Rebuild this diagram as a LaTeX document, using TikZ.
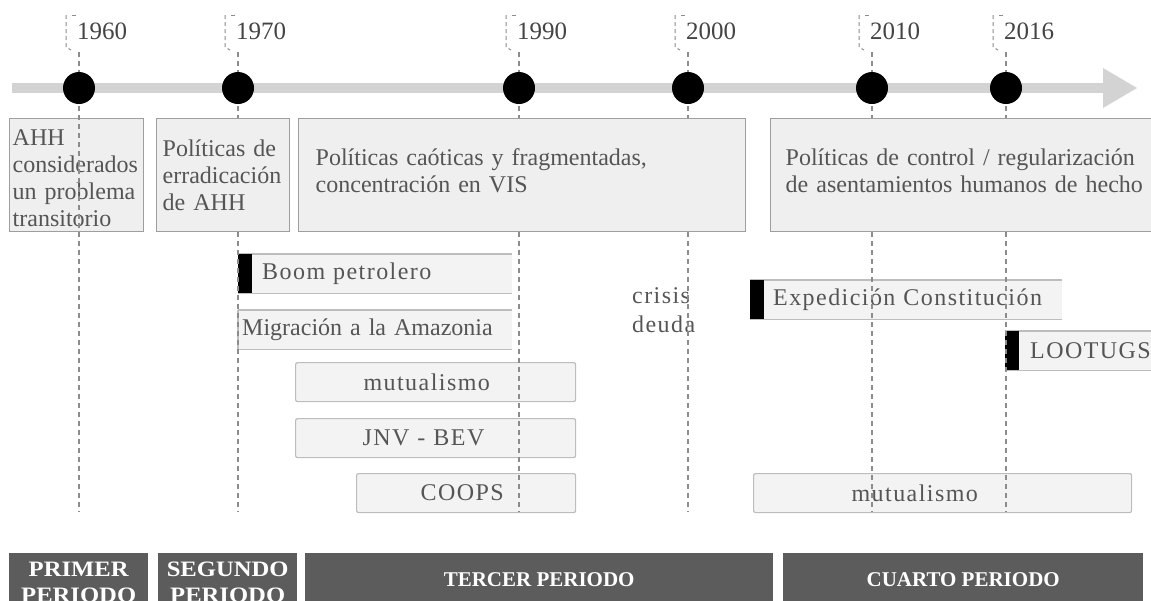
\documentclass[tikz,border=0pt]{standalone}
\usepackage{fontspec}
\setmainfont{Liberation Serif}
\newfontfamily\spacedfont{Liberation Serif}[LetterSpace=6]
\definecolor{axis}{HTML}{D3D3D3}
\definecolor{boxfill}{HTML}{EFEFEF}
\definecolor{boxline}{HTML}{9E9E9E}
\definecolor{barfill}{HTML}{F3F3F3}
\definecolor{barline}{HTML}{BDBDBD}
\definecolor{txt}{HTML}{555555}
\definecolor{yeartxt}{HTML}{444444}
\definecolor{dashc}{HTML}{8C8C8C}
\definecolor{banner}{HTML}{5C5C5C}
\begin{document}
\begin{tikzpicture}[x=1pt,y=-1pt,
  every node/.style={text=txt},
  dot/.style={circle, fill=black, minimum size=32pt, inner sep=0pt},
  year/.style={anchor=west, inner sep=0pt, text=yeartxt, font=\fontsize{25}{27}\selectfont},
  vline/.style={draw=dashc, line width=1.2pt, dash pattern=on 5pt off 4pt},
  bracket/.style={draw=dashc, line width=1pt, dash pattern=on 4pt off 3pt},
  topbox/.style={draw=boxline, fill=boxfill, line width=1.4pt, anchor=north west, align=left,
    minimum height=113pt, inner ysep=0pt, font=\fontsize{24}{27}\selectfont},
  openbar/.style={fill=barfill, anchor=north west, align=left, minimum height=39pt, inner ysep=0pt,
    font=\fontsize{24}{28}\spacedfont},
  closedbar/.style={openbar, draw=barline, line width=1.2pt, rounded corners=2pt},
  barrule/.style={draw=barline, line width=1.2pt},
  period/.style={fill=banner, anchor=north west, align=center, minimum height=52pt, inner sep=0pt,
    text=white, font=\fontsize{21}{26}\bfseries},
  period2/.style={period, minimum height=58pt, font=\fontsize{22}{26}\bfseries},
]
\useasboundingbox (0,0) rectangle (1151,600);
\clip (0,0) rectangle (1151,600);

% timeline arrow
\coordinate (astart) at (12,88);
\coordinate (aend) at (1104,88);
\coordinate (atip) at (1137,88);
\draw[axis, line width=10pt] (astart) -- (aend);
\fill[axis] (1103,68) -- (atip) -- (1103,108) -- cycle;

% first period box (lines drawn over it)
\node[topbox, inner xsep=3pt, text width=128pt] (p1) at (9,118)
  {\mbox{}\\[-5pt]AHH\\considerados\\un problema\\transitorio};

% lower bars
\node[openbar, inner xsep=24pt, text width=226pt] (boom) at (238,254) {Boom petrolero};
\node[openbar, inner xsep=4pt, text width=266pt, font=\fontsize{24}{28}\selectfont] (migr) at (238,310) {Migración a la Amazonia};
\node[closedbar, inner xsep=68pt, text width=144pt] (mut1) at (295,362) {mutualismo};
\node[closedbar, inner xsep=67pt, text width=146pt] (jnv) at (295,418) {JNV - BEV};
\node[closedbar, inner xsep=64pt, text width=91pt] (coops) at (356,473) {COOPS};
\node[openbar, inner xsep=23pt, text width=266pt] (expe) at (750,280) {\mbox{Expedición Constitución}};
\node[openbar, inner xsep=25pt, text width=150pt] (loot) at (1005,331) {LOOTUGS};
\node[closedbar, inner xsep=98pt, text width=182pt] (mut2) at (753,473) {mutualismo};

\foreach \b in {boom,migr,expe,loot}{
  \draw[barrule] (\b.north west) -- (\b.north east) (\b.south west) -- (\b.south east);
}
\draw[barrule] (migr.north west) -- (migr.south west);
\foreach \b in {boom,expe,loot}{
  \fill[black] (\b.north west) rectangle ([xshift=14pt]\b.south west);
}

\node[anchor=west, align=left, inner sep=0pt, font=\fontsize{24}{29}\spacedfont] (crisis) at (632,310.5) {crisis\\deuda};

% vertical dashed lines, brackets, years
\foreach \x/\y in {79/1960,238/1970,519/1990,688/2000,872/2010,1006/2016}{
  \coordinate (t\y) at (\x,52);
  \coordinate (b\y) at (\x,512);
  \draw[vline] (t\y) -- (b\y);
  \draw[bracket] (\x-7,15) -- (\x-3,15);
  \draw[bracket] (\x-13,15) -- (\x-13,47) -- (\x-8,50);
  \node[year] (y\y) at (\x-2,31) {\y};
}

% other period boxes (cover the lines)
\node[topbox, inner xsep=6pt, text width=121pt] (p2) at (156,118)
  {Políticas de\\erradicación\\de AHH};
\node[topbox, inner xsep=17pt, text width=413pt] (p3) at (298,118)
  {Políticas caóticas y fragmentadas,\\concentración en VIS\\[-18pt]\mbox{}};
\node[topbox, inner xsep=15pt, text width=375pt] (p4) at (770,118)
  {Políticas de control / regularización\\de asentamientos humanos de hecho\\[-18pt]\mbox{}};

% circles
\foreach \x/\y in {79/1960,238/1970,519/1990,688/2000,872/2010,1006/2016}{
  \node[dot] (c\y) at (\x,88) {};
}

% period banners
\node[period2, minimum width=139pt] (per1) at (9,553) {\scalebox{1.12}[1]{PRIMER}\\\scalebox{1.12}[1]{PERIODO}};
\node[period2, minimum width=139pt] (per2) at (158,553) {\scalebox{1.12}[1]{SEGUNDO}\\\scalebox{1.12}[1]{PERIODO}};
\node[period, minimum width=468pt] (per3) at (305,553) {TERCER PERIODO};
\node[period, minimum width=360pt] (per4) at (783,553) {CUARTO PERIODO};
\end{tikzpicture}
\end{document}
